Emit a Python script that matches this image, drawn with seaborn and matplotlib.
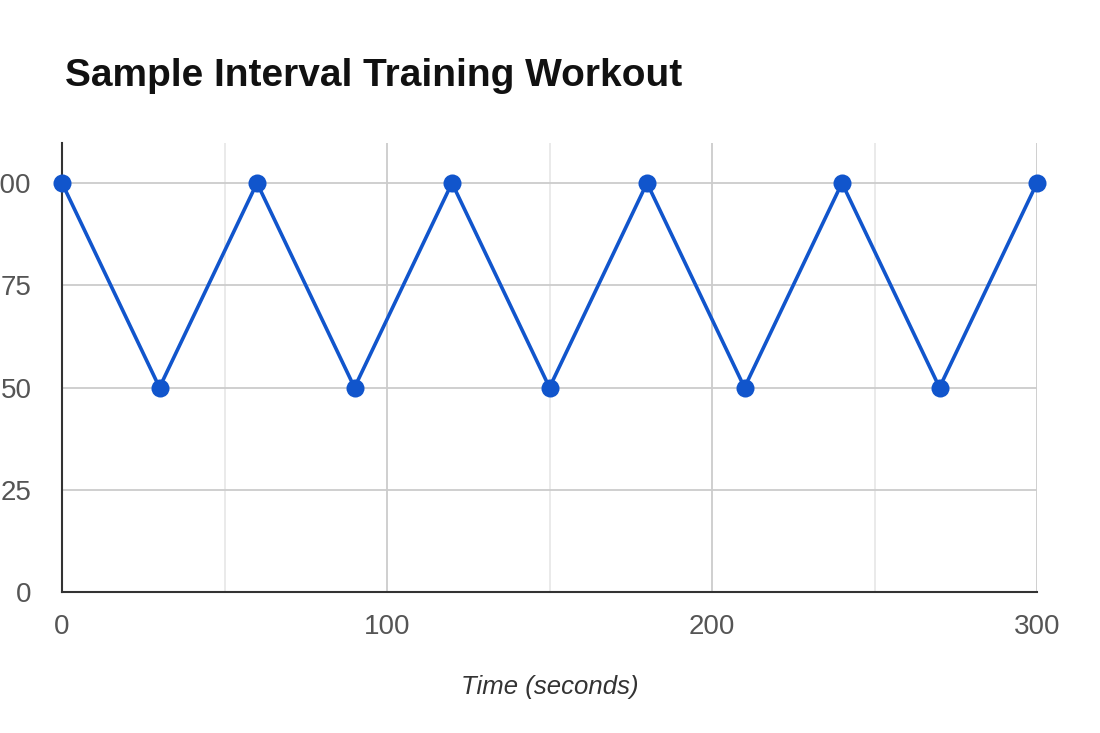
import matplotlib
matplotlib.use("Agg")
import matplotlib.pyplot as plt
import seaborn as sns
import pandas as pd
from matplotlib.ticker import MultipleLocator

time_s = [0, 30, 60, 90, 120, 150, 180, 210, 240, 270, 300]
intensity = [100, 50, 100, 50, 100, 50, 100, 50, 100, 50, 100]
x_ticks = [0, 100, 200, 300]
y_ticks = [0, 25, 50, 75, 100]

sns.set_theme(style="white")
plt.rcParams['font.family'] = ['Liberation Sans', 'DejaVu Sans']

df = pd.DataFrame({"Time": time_s, "Value": intensity})

fig = plt.figure(figsize=(11, 7.33), dpi=100)
ax = fig.add_axes([62/1100, 141/733, (1037-62)/1100, (592-143)/733])

ax.set_xlim(0, 300)
ax.set_ylim(0, 100 * (592-143) / (592-183))

ax.set_xticks(x_ticks)
ax.set_yticks(y_ticks)
ax.xaxis.set_minor_locator(MultipleLocator(50))
ax.grid(True, which="major", axis="both", color="#cccccc", linewidth=1.3)
ax.grid(True, which="minor", axis="x", color="#e8e8e8", linewidth=1.3)
ax.set_axisbelow(True)

sns.lineplot(data=df, x="Time", y="Value", ax=ax, color="#1155cc",
             linewidth=2.6, marker="o", markersize=13, markeredgewidth=0,
             clip_on=False, zorder=5)

for s in ["top", "right"]:
    ax.spines[s].set_visible(False)
for s in ["left", "bottom"]:
    ax.spines[s].set_color("#333333")
    ax.spines[s].set_linewidth(1.5)

ax.tick_params(axis="both", which="both", length=0, labelsize=20, labelcolor="#555555")
ax.tick_params(axis="y", pad=22)
ax.tick_params(axis="x", pad=16)

ax.set_xlabel("Time (seconds)", fontsize=18.5, style="italic", color="#333333", labelpad=25)
ax.set_ylabel("")

fig.text(65/1100, 1 - 76/733, "Sample Interval Training Workout", fontsize=28,
         fontweight="bold", color="#111111", ha="left", va="center")

fig.savefig("out.png", dpi=100)
